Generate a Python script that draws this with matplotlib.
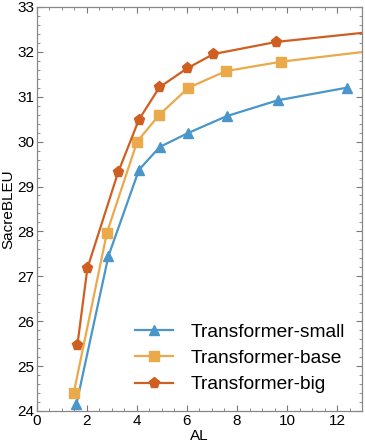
import matplotlib
matplotlib.use("Agg")
import matplotlib.pyplot as plt
from matplotlib.ticker import MultipleLocator

plt.rcParams['font.family'] = ['Liberation Sans', 'DejaVu Sans']

small_x = [1.58, 2.86, 4.08, 4.91, 6.04, 7.60, 9.63, 12.38]
small_y = [24.15, 27.45, 29.37, 29.88, 30.19, 30.57, 30.92, 31.20]
base_x = [1.47, 2.80, 4.01, 4.90, 6.06, 7.56, 9.76, 14.0]
base_y = [24.39, 27.97, 30.00, 30.60, 31.20, 31.57, 31.78, 32.06]
big_x = [1.62, 2.02, 3.25, 4.08, 4.90, 6.00, 7.06, 9.57, 14.0]
big_y = [25.47, 27.18, 29.32, 30.49, 31.21, 31.63, 31.95, 32.22, 32.48]
labels = ["Transformer-small", "Transformer-base", "Transformer-big"]
colors = ["#4a96c9", "#eaa94b", "#cf5f21"]

fig = plt.figure(figsize=(3.65, 4.46), dpi=100)
ax = fig.add_axes([0.101, 0.0785, 0.891, 0.906])

ax.plot(small_x, small_y, '-^', color=colors[0], lw=1.6, ms=7, label=labels[0])
ax.plot(base_x, base_y, '-s', color=colors[1], lw=1.6, ms=6.5, label=labels[1])
ax.plot(big_x, big_y, '-p', color=colors[2], lw=1.6, ms=8, label=labels[2])

ax.set_xlim(0, 13)
ax.set_ylim(24, 33)
ax.xaxis.set_major_locator(MultipleLocator(2))
ax.xaxis.set_minor_locator(MultipleLocator(0.5))
ax.yaxis.set_major_locator(MultipleLocator(1))
ax.yaxis.set_minor_locator(MultipleLocator(0.2))
ax.tick_params(which='both', direction='in', top=True, right=True, color='#777777',
               labelsize=11, pad=2)
ax.tick_params(which='major', length=4, width=0.8)
ax.tick_params(which='minor', length=2, width=0.6)
for s in ax.spines.values():
    s.set_color('#888888')
    s.set_linewidth(0.9)

ax.set_xlabel("AL", fontsize=11, labelpad=1)
ax.set_ylabel("SacreBLEU", fontsize=11, labelpad=1)

ax.legend(loc='lower right', bbox_to_anchor=(0.97, 0.025), frameon=False, fontsize=13.8,
          handlelength=2.0, labelspacing=0.45, handletextpad=0.9, borderaxespad=0.0)

fig.savefig("out.png", dpi=100)
